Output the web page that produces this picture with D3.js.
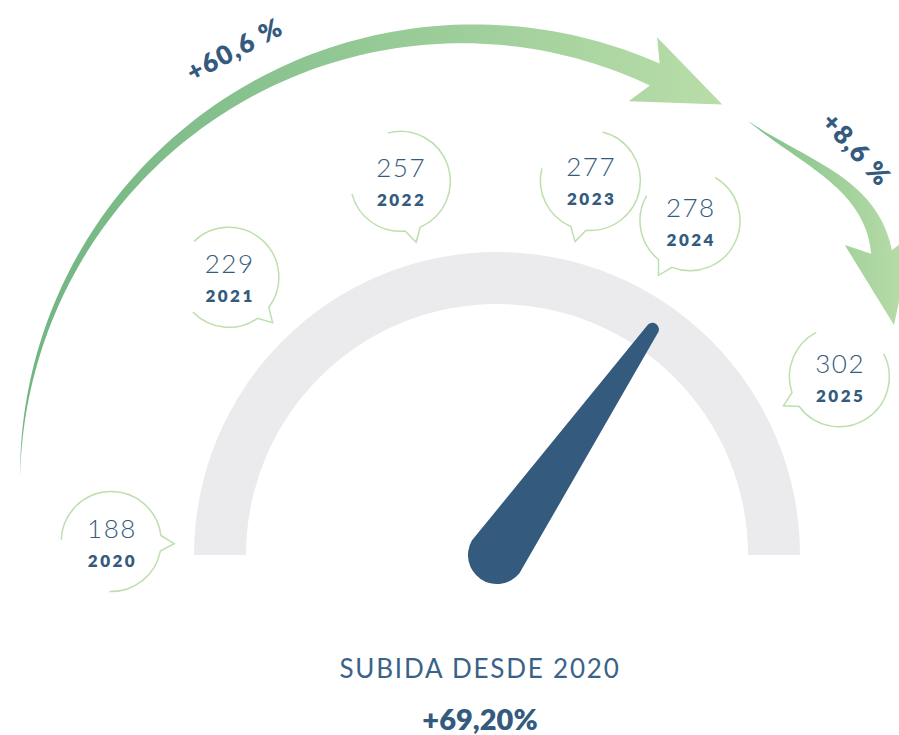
<!DOCTYPE html>
<html>
<head>
<meta charset="utf-8">
<script src="https://cdn.jsdelivr.net/npm/d3@7"></script>
<style>
  body { margin: 0; background: #fff; }
  svg { display: block; font-family: Lato, "Open Sans", sans-serif; }
</style>
</head>
<body>
<svg id="chart"></svg>
<script>
// data
var years = ["2020", "2021", "2022", "2023", "2024", "2025"];
var values = [188, 229, 257, 277, 278, 302];
var growthLabels = ["+60,6 %", "+8,6 %"];
var totalLabel = "SUBIDA DESDE 2020";
var totalChange = 69.20; // percent, needle value

// layout (angle of each bubble around the gauge, degrees)
var bubbleAngles = [-88, -44, -14.5, 14, 30, 62.5];

var width = 899, height = 735;
var cx = 497, cy = 555;
var blue = "#345b7e";
var bubbleStroke = "#bddfae";

var svg = d3.select("#chart")
	.attr("width", width)
	.attr("height", height);

var defs = svg.append("defs");

function gradient(id, x1, x2, c1, c2) {
	var g = defs.append("linearGradient")
		.attr("id", id)
		.attr("gradientUnits", "userSpaceOnUse")
		.attr("x1", x1).attr("x2", x2)
		.attr("y1", 0).attr("y2", 0);
	g.append("stop").attr("offset", 0).attr("stop-color", c1);
	g.append("stop").attr("offset", 1).attr("stop-color", c2);
}
gradient("gBig", 18, 722, "#70b582", "#b9dda9");
gradient("gSmall", 748, 899, "#80c08b", "#b6dba6");

// gauge
var angleScale = d3.scaleLinear()
	.domain([0, 100])
	.range([-Math.PI / 2, Math.PI / 2]);

var gauge = svg.append("g")
	.attr("transform", `translate(${cx}, ${cy})`);

gauge.append("path")
	.attr("d", d3.arc()
		.innerRadius(251)
		.outerRadius(303)
		.startAngle(angleScale(0))
		.endAngle(angleScale(100))())
	.attr("fill", "#ebebed");

// needle: two circles joined by their outer tangents
function needlePath(a, len, R, r) {
	var u = [Math.sin(a), -Math.cos(a)];
	var n = [Math.cos(a), Math.sin(a)];
	var s = (R - r) / len, c = Math.sqrt(1 - s * s);
	var m1 = [n[0] * c - u[0] * s, n[1] * c - u[1] * s];
	var m2 = [-n[0] * c - u[0] * s, -n[1] * c - u[1] * s];
	var t = [u[0] * len, u[1] * len];
	var p = d3.path();
	p.moveTo(R * m1[0], R * m1[1]);
	p.lineTo(t[0] + r * m1[0], t[1] + r * m1[1]);
	p.arc(t[0], t[1], r, Math.atan2(m1[1], m1[0]), Math.atan2(m2[1], m2[0]), true);
	p.lineTo(R * m2[0], R * m2[1]);
	p.arc(0, 0, R, Math.atan2(m2[1], m2[0]), Math.atan2(m1[1], m1[0]), true);
	p.closePath();
	return p.toString();
}

gauge.append("path")
	.attr("d", needlePath(angleScale(totalChange), 274, 29, 6.5))
	.attr("fill", blue);

// curved growth arrows
function arrowPath(mid, w0, w1) {
	var n = mid.length, left = [], right = [];
	mid.forEach(function(p, i) {
		var a = mid[Math.max(i - 1, 0)], b = mid[Math.min(i + 1, n - 1)];
		var dx = b[0] - a[0], dy = b[1] - a[1], l = Math.hypot(dx, dy);
		var nx = dy / l, ny = -dx / l;
		var w = (w0 + (w1 - w0) * i / (n - 1)) / 2;
		left.push([p[0] + nx * w, p[1] + ny * w]);
		right.push([p[0] - nx * w, p[1] - ny * w]);
	});
	var e = mid[n - 1], q = mid[n - 2];
	var l = Math.hypot(e[0] - q[0], e[1] - q[1]);
	var d = [(e[0] - q[0]) / l, (e[1] - q[1]) / l];
	var nn = [d[1], -d[0]];
	var head = [
		[e[0] - 13 * d[0] + 35 * nn[0], e[1] - 13 * d[1] + 35 * nn[1]],
		[e[0] + 74 * d[0], e[1] + 74 * d[1]],
		[e[0] - 13 * d[0] - 35 * nn[0], e[1] - 13 * d[1] - 35 * nn[1]]
	];
	var pts = left.concat(head, right.reverse());
	return d3.line()(pts) + "Z";
}

// big arrow follows a circle
var bigMid = d3.range(0, 1.0001, 0.01).map(function(t) {
	var a = (-89.2 + t * 114) * Math.PI / 180;
	var r = 446 + 4 * t;
	return [466 + r * Math.sin(a), 483 - r * Math.cos(a)];
});
svg.append("path")
	.attr("d", arrowPath(bigMid, 0, 24))
	.attr("fill", "url(#gBig)");

// small arrow follows a cubic curve
var P0 = [748, 121], C1 = [804, 163], C2 = [871, 183], P3 = [881.5, 252];
var smallMid = d3.range(0, 1.0001, 0.02).map(function(t) {
	var s = 1 - t;
	return [0, 1].map(function(k) {
		return s * s * s * P0[k] + 3 * s * s * t * C1[k] + 3 * s * t * t * C2[k] + t * t * t * P3[k];
	});
});
svg.append("path")
	.attr("d", arrowPath(smallMid, 0, 21))
	.attr("fill", "url(#gSmall)");

// growth labels
var labelPos = [[234, 50, -28], [856, 149, 48]];
svg.selectAll(".growth")
	.data(growthLabels)
	.enter()
	.append("text")
		.attr("class", "growth")
		.attr("transform", (d, i) => `translate(${labelPos[i][0]}, ${labelPos[i][1]}) rotate(${labelPos[i][2]})`)
		.attr("dy", "0.35em")
		.attr("dx", 0.75)
		.attr("text-anchor", "middle")
		.attr("fill", blue)
		.style("font-size", "26px")
		.style("font-weight", 800)
		.style("letter-spacing", "1.5px")
		.text(d => d);

// speech bubbles
var bubbleR = 50, bubbleDist = 386;

function bubblePath(phi) {
	var p = d3.path(), deg = Math.PI / 180, r = bubbleR;
	var a0 = phi + 180 * deg, a1 = phi + 351 * deg;
	var b0 = phi + 9 * deg, b1 = phi + 90 * deg;
	p.moveTo(r * Math.cos(a0), r * Math.sin(a0));
	p.arc(0, 0, r, a0, a1);
	p.lineTo(63 * Math.cos(phi), 63 * Math.sin(phi));
	p.lineTo(r * Math.cos(b0), r * Math.sin(b0));
	p.arc(0, 0, r, b0, b1);
	return p.toString();
}

var bubbles = svg.selectAll(".bubble")
	.data(years.map((y, i) => ({year: y, value: values[i], angle: bubbleAngles[i]})))
	.enter()
	.append("g")
		.attr("class", "bubble")
		.attr("transform", function(d) {
			var p = d3.pointRadial(d.angle * Math.PI / 180, bubbleDist);
			d.x = cx + p[0];
			d.y = cy + p[1];
			return `translate(${d.x}, ${d.y})`;
		});

bubbles.append("path")
	.attr("d", d => bubblePath(Math.atan2(cy - d.y, cx - d.x)))
	.attr("fill", "none")
	.attr("stroke", bubbleStroke)
	.attr("stroke-width", 1.5);

bubbles.append("text")
	.attr("y", -4)
	.attr("dx", 0.75)
	.attr("text-anchor", "middle")
	.attr("fill", blue)
	.style("font-size", "26px")
	.style("font-weight", 300)
	.style("letter-spacing", "1.5px")
	.text(d => d.value);

bubbles.append("text")
	.attr("y", 25)
	.attr("dx", 1.25)
	.attr("text-anchor", "middle")
	.attr("fill", blue)
	.style("font-size", "17px")
	.style("font-weight", 800)
	.style("letter-spacing", "2.5px")
	.text(d => d.year);

// bottom summary
svg.append("text")
	.attr("x", 479)
	.attr("y", 678)
	.attr("dx", 1)
	.attr("text-anchor", "middle")
	.attr("fill", "#3a6288")
	.style("font-size", "26px")
	.style("font-weight", 400)
	.style("letter-spacing", "1.8px")
	.text(totalLabel);

svg.append("text")
	.attr("x", 480)
	.attr("y", 730)
	.attr("text-anchor", "middle")
	.attr("fill", blue)
	.style("font-size", "29px")
	.style("font-weight", 800)
	.text("+" + d3.format(".2f")(totalChange).replace(".", ",") + "%");
</script>
</body>
</html>
